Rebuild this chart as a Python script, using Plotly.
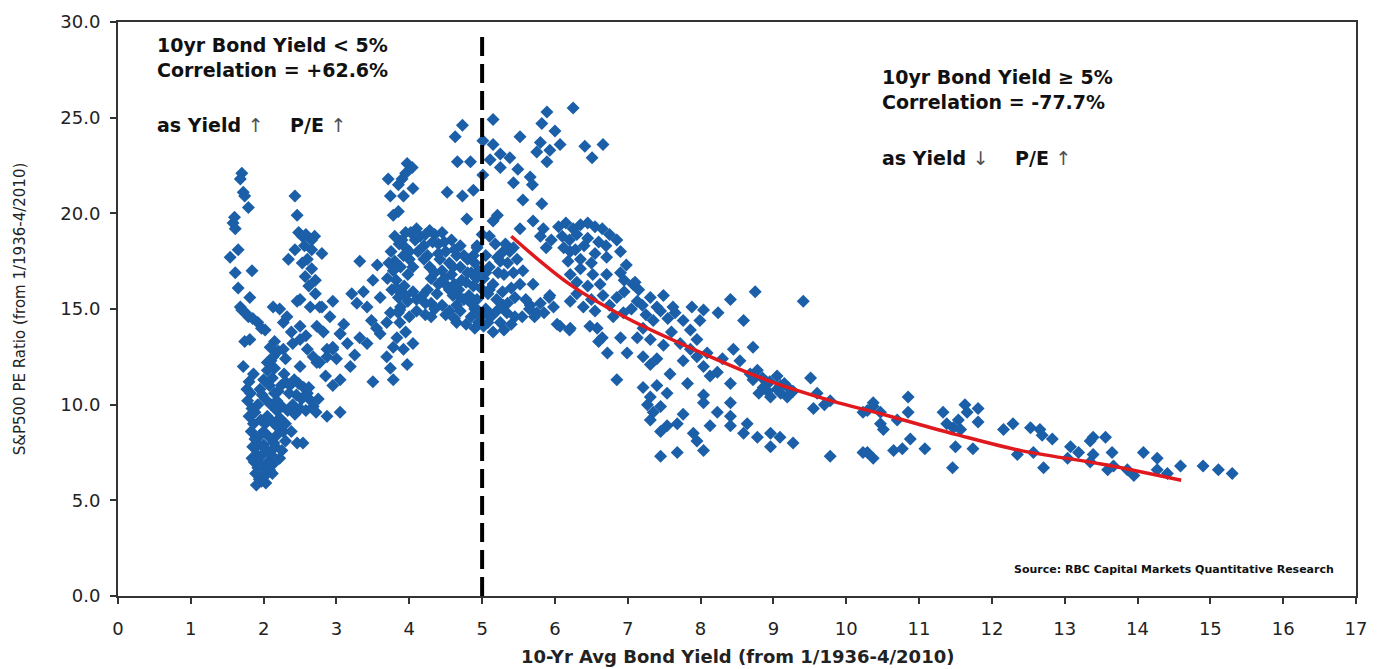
import plotly.graph_objects as go

# ---------------- data ----------------
# Scatter points: (10-yr avg bond yield, S&P500 P/E)
pts_band_1_6_to_2 = [
    (1.70, 22.1), (1.68, 21.8), (1.72, 21.1), (1.74, 20.9), (1.79, 20.3), (1.58, 19.5), (1.60, 19.8),
    (1.61, 19.2), (1.65, 18.1), (1.54, 17.7), (1.61, 16.9), (1.84, 17.0), (1.65, 16.1), (1.81, 15.6),
    (1.68, 15.1), (1.70, 14.95), (1.75, 14.8), (1.79, 14.6), (1.85, 14.5), (1.92, 14.3), (1.97, 14.0),
    (2.02, 13.9), (1.74, 13.3), (1.72, 12.0), (1.77, 10.8), (1.80, 11.2), (1.82, 10.6), (1.78, 10.2),
    (1.84, 9.8), (1.80, 9.4), (1.86, 9.0), (1.83, 8.6), (1.88, 8.2), (1.85, 7.8), (1.90, 7.4),
    (1.87, 7.0), (1.92, 6.7), (1.89, 6.4), (1.94, 6.1), (1.90, 5.8), (1.97, 6.0), (1.84, 7.2),
    (1.93, 7.9), (1.88, 9.6), (1.81, 13.4),
]
pts_band_2_dense = [
    (1.95, 10.8), (2.00, 11.3), (1.92, 10.0), (1.96, 9.2), (2.02, 9.0), (1.95, 8.4), (2.00, 7.9),
    (1.96, 7.3), (2.08, 6.6), (1.93, 6.9), (2.03, 5.9), (1.98, 10.5), (2.15, 11.9), (2.20, 10.7),
    (2.25, 9.9), (2.27, 8.6), (2.18, 8.4), (2.22, 7.2), (2.12, 6.4), (1.86, 11.6),
]
pts_band_2_to_3_low = [
    (2.10, 12.3), (2.05, 11.8), (2.12, 11.4), (2.08, 11.0), (2.15, 10.6), (2.02, 10.3), (2.10, 10.0),
    (2.18, 9.7), (2.05, 9.4), (2.12, 9.1), (2.20, 8.8), (2.00, 8.6), (2.08, 8.3), (2.14, 8.0),
    (2.02, 7.7), (2.10, 7.4), (2.06, 7.0), (1.98, 6.8), (2.04, 6.5), (2.00, 6.2), (2.13, 6.9),
    (2.16, 7.8), (2.22, 9.3), (2.18, 10.2), (2.24, 11.0), (2.25, 7.6), (2.30, 8.1), (2.20, 12.8),
    (2.15, 13.3), (2.30, 12.4), (2.28, 11.6), (2.30, 11.2), (2.36, 11.0), (2.42, 11.3), (2.48, 11.1),
    (2.55, 10.9), (2.35, 10.6), (2.45, 10.5), (2.52, 10.3), (2.60, 10.6), (2.65, 10.2), (2.40, 10.0),
    (2.50, 9.8), (2.58, 9.7), (2.68, 9.9), (2.72, 9.6), (2.33, 9.7), (2.43, 9.5), (2.62, 10.9),
    (2.75, 10.3), (2.87, 9.4), (3.05, 9.6), (2.46, 8.0), (2.54, 8.0), (2.38, 8.6), (2.30, 9.0),
    (2.09, 13.0), (2.13, 12.5), (2.27, 12.9), (2.40, 13.2), (2.50, 13.4), (2.60, 12.9), (2.68, 12.5),
    (2.77, 12.2), (2.87, 12.9), (2.95, 13.0), (2.73, 14.1), (2.82, 13.8), (3.05, 13.7), (2.50, 14.1),
    (2.27, 14.3), (2.13, 15.1), (2.22, 15.0), (2.32, 14.6), (2.46, 15.4), (2.64, 15.1), (2.77, 15.1),
    (2.05, 12.2), (2.38, 13.8), (2.58, 13.6), (2.85, 11.5), (2.95, 11.0), (2.50, 12.0),
]
pts_band_2_to_3_high = [
    (2.43, 20.9), (2.46, 19.9), (2.53, 18.8), (2.66, 18.6), (2.43, 18.1), (2.56, 18.3), (2.66, 18.1),
    (2.80, 17.9), (2.34, 17.6), (2.53, 17.4), (2.60, 17.6), (2.66, 17.1), (2.57, 16.7), (2.71, 16.5),
    (2.62, 16.2), (2.71, 15.8), (2.50, 15.5), (2.80, 15.1), (2.95, 15.4), (2.91, 14.6), (2.48, 19.0),
    (2.58, 18.9), (2.70, 18.8),
]
pts_band_3_to_4 = [
    (3.32, 17.5), (3.56, 17.3), (3.50, 16.5), (3.21, 15.8), (3.37, 15.9), (3.60, 15.6), (3.28, 15.3),
    (3.42, 15.1), (3.74, 14.8), (3.87, 14.95), (3.69, 14.3), (3.87, 14.3), (3.60, 13.7), (3.83, 13.5),
    (4.05, 13.2), (3.92, 12.9), (3.32, 13.5), (3.42, 13.2), (3.15, 13.2), (3.05, 13.7), (2.95, 12.9),
    (2.87, 12.5), (2.73, 12.2), (3.19, 12.0), (3.69, 12.5), (3.74, 11.9), (3.97, 12.1), (3.50, 11.2),
    (3.78, 11.3), (3.55, 14.0), (3.48, 14.4), (3.10, 14.2), (3.00, 12.4), (3.25, 12.6), (3.05, 11.3),
    (3.95, 13.8), (3.78, 13.0),
]
pts_band_4_to_5 = [
    (3.75, 18.0), (3.80, 17.5), (3.78, 17.0), (3.82, 16.5), (3.76, 16.0), (3.85, 15.6), (3.90, 18.6),
    (3.95, 18.2), (3.92, 17.8), (3.88, 17.2), (3.93, 16.2), (3.90, 15.8), (3.98, 15.4), (4.02, 19.0),
    (4.08, 18.6), (4.00, 17.6), (4.05, 15.9), (4.10, 15.5), (4.15, 18.8), (4.20, 18.3), (4.25, 17.8),
    (4.28, 17.2), (4.30, 16.6), (4.25, 16.0), (4.18, 15.7), (4.30, 15.3), (4.35, 18.9), (4.40, 18.4),
    (4.42, 17.6), (4.45, 17.0), (4.40, 16.3), (4.38, 15.8), (4.45, 15.2), (4.50, 18.0), (4.55, 17.4),
    (4.58, 16.8), (4.52, 16.2), (4.60, 15.7), (4.55, 14.9), (4.65, 17.8), (4.70, 17.2), (4.72, 16.5),
    (4.68, 16.0), (4.75, 15.5), (4.70, 14.9), (4.80, 17.6), (4.85, 16.9), (4.88, 16.2), (4.82, 15.7),
    (4.90, 15.0), (4.85, 14.6), (4.95, 14.3), (4.78, 14.2), (4.62, 14.5), (4.00, 14.6), (3.85, 14.8),
    (4.10, 14.9), (4.22, 14.7), (4.95, 17.0), (4.98, 16.1), (4.93, 15.5), (4.12, 18.0), (3.98, 16.8),
    (4.35, 16.9), (4.48, 16.6), (4.62, 16.3), (4.78, 16.4), (4.65, 15.2), (4.88, 17.8), (4.70, 18.3),
    (4.58, 18.6), (4.45, 19.0), (4.28, 19.1), (3.86, 18.4), (3.72, 17.4), (4.05, 17.2),
    (4.73, 24.6), (4.63, 24.0), (4.66, 22.7), (4.84, 22.7), (3.97, 22.6), (4.04, 22.4), (3.71, 21.8),
    (3.90, 21.8), (3.85, 21.5), (4.05, 21.3), (3.74, 20.9), (3.92, 20.9), (4.52, 21.1), (4.73, 20.9),
    (4.88, 21.2), (3.78, 19.9), (3.85, 20.1), (4.79, 19.7), (4.93, 18.2), (3.95, 22.1),
]
pts_cluster_4_dense = [
    (3.80, 18.8), (3.95, 19.0), (4.10, 19.2), (4.22, 18.9), (4.32, 18.5), (4.48, 18.5), (4.62, 18.1),
    (4.75, 17.8), (4.90, 17.4), (3.70, 16.6), (3.82, 16.1), (3.95, 15.7), (4.22, 15.3), (4.35, 15.0),
    (4.50, 14.7), (4.70, 15.6), (4.85, 15.3), (4.95, 14.9), (4.60, 17.2), (4.40, 17.9), (4.55, 16.0),
    (4.80, 16.9), (4.92, 16.6), (3.88, 15.1), (4.00, 18.0), (4.20, 17.6), (4.65, 14.3), (4.90, 14.0),
    (4.30, 14.6),
]
pts_band_5_to_7 = [
    (6.25, 25.5), (5.89, 25.3), (5.82, 24.7), (5.15, 24.9), (5.52, 24.0), (5.01, 23.8), (5.15, 23.6),
    (5.80, 23.7), (6.00, 24.3), (5.93, 23.3), (6.07, 23.6), (5.75, 23.2), (6.41, 23.5), (6.66, 23.6),
    (6.51, 22.9), (5.89, 22.7), (5.25, 23.1), (5.38, 22.9), (5.11, 22.8), (5.25, 22.4), (5.01, 22.0),
    (5.49, 22.3), (5.66, 21.9), (5.43, 21.6), (5.69, 21.5), (5.56, 20.7), (5.82, 20.5), (5.21, 19.9),
    (5.15, 19.6), (5.70, 19.6), (5.52, 19.2), (5.84, 19.2), (5.29, 18.0), (5.21, 17.7), (5.43, 18.2),
    (5.43, 16.9), (5.56, 17.0), (4.93, 18.3), (5.70, 16.3), (5.52, 16.3), (5.66, 15.2), (5.75, 14.8),
    (5.93, 15.7), (5.98, 15.1), (6.21, 18.0), (6.35, 17.1), (6.21, 16.8), (6.52, 16.8), (6.71, 17.7),
    (6.71, 16.8), (6.90, 16.9), (7.07, 16.3), (6.66, 15.7), (6.85, 15.6), (7.13, 15.4), (6.94, 14.8),
    (6.39, 15.1), (6.21, 15.4), (5.29, 15.2), (5.34, 14.8), (5.11, 14.7), (6.03, 14.2), (6.21, 14.0),
    (6.58, 14.0), (7.21, 14.0), (6.80, 14.6),
    (6.05, 19.3), (6.15, 19.5), (6.25, 19.2), (6.35, 19.4), (6.45, 19.5), (6.55, 19.3), (6.65, 19.2),
    (6.75, 18.9), (6.10, 18.8), (6.20, 18.6), (6.30, 18.9), (6.45, 18.7), (6.60, 18.5), (6.70, 18.3),
    (6.12, 18.2), (6.28, 18.1), (6.40, 18.3), (6.55, 17.9), (6.35, 17.6), (6.50, 17.4), (6.18, 17.5),
    (5.95, 18.6), (5.88, 18.2), (5.80, 18.8), (6.85, 18.6), (6.90, 18.0), (6.98, 17.3),
    (5.05, 17.8), (5.10, 17.2), (5.02, 16.6), (5.15, 16.3), (5.08, 15.8), (5.20, 15.5), (5.05, 15.0),
    (5.12, 14.6), (5.25, 14.3), (5.02, 14.1), (5.30, 16.8), (5.35, 17.4), (5.40, 16.1), (5.45, 15.6),
    (5.18, 18.4), (5.38, 18.0), (5.48, 17.6), (5.30, 13.9), (5.15, 13.8), (5.45, 14.6),
    (5.60, 15.5), (5.65, 15.0), (5.72, 14.6), (5.80, 15.3), (5.85, 14.8), (5.92, 15.6), (5.55, 14.6),
    (6.07, 14.1), (6.20, 13.9), (6.48, 14.1), (6.65, 13.5), (6.72, 12.7), (6.99, 12.7), (6.85, 11.3),
    (6.60, 13.3), (6.90, 13.5),
]
pts_band_5_dense = [
    (5.05, 16.9), (5.10, 16.0), (5.22, 16.9), (5.28, 15.9), (5.35, 15.3), (5.20, 14.9), (5.08, 14.3),
    (4.98, 14.6), (5.40, 14.2), (5.25, 17.5), (5.32, 18.4), (5.00, 18.9), (5.10, 18.8),
    (6.30, 15.8), (6.50, 15.5), (6.55, 14.9), (6.75, 15.2), (6.95, 15.9), (7.05, 15.0), (7.20, 15.2),
    (7.25, 14.7), (7.45, 14.9), (7.55, 14.5), (7.65, 14.8), (7.15, 16.0), (6.30, 16.4), (6.45, 16.2),
    (6.62, 16.3), (6.95, 16.5),
]
pts_band_7_to_10 = [
    (7.10, 16.4), (8.75, 15.9), (9.41, 15.4), (8.41, 15.5), (7.31, 15.6), (7.49, 15.7), (7.40, 15.1),
    (7.62, 15.1), (7.88, 15.1), (8.04, 14.95), (8.24, 14.8), (7.76, 14.4), (7.99, 14.4), (7.86, 13.9),
    (8.59, 14.4), (7.35, 14.4), (7.13, 13.5), (7.31, 13.4), (7.49, 13.1), (7.72, 13.2), (7.86, 12.9),
    (7.76, 12.3), (7.95, 12.5), (8.09, 12.7), (8.45, 12.9), (8.72, 13.0), (8.54, 12.3), (7.21, 12.5),
    (7.40, 12.4), (7.31, 12.1), (8.04, 12.0), (8.23, 11.7), (8.41, 11.1), (8.13, 11.5), (8.78, 11.8),
    (8.72, 11.3), (8.86, 10.9), (9.05, 10.8), (8.96, 10.4), (9.19, 10.4), (9.27, 10.7), (9.51, 11.4),
    (7.58, 11.6), (7.82, 11.1), (7.21, 10.9), (7.40, 11.0), (7.54, 10.6), (7.31, 10.4), (8.04, 10.5),
    (8.04, 10.1), (8.41, 10.1), (7.27, 10.0), (7.45, 9.9), (7.35, 9.6), (8.23, 9.6), (8.41, 9.4),
    (7.76, 9.5), (7.68, 9.0), (7.54, 8.9), (7.31, 9.2), (7.45, 8.6), (8.13, 8.9), (8.41, 8.9),
    (8.64, 9.0), (8.59, 8.5), (7.90, 8.5), (7.95, 8.1), (8.04, 7.6), (8.78, 8.3), (8.96, 8.5),
    (9.09, 8.3), (9.27, 8.0), (8.96, 7.8), (7.68, 7.5), (7.45, 7.3), (9.78, 7.3), (10.23, 7.5),
    (10.37, 9.9), (10.23, 9.6), (9.78, 10.2), (9.60, 10.6), (9.70, 10.0), (9.55, 9.8),
    (8.68, 11.6), (8.90, 11.2), (9.10, 11.0), (8.30, 12.4), (7.60, 13.8), (7.95, 13.4),
    (8.85, 11.4), (8.95, 11.2), (9.05, 11.5), (9.15, 11.1), (9.20, 10.9), (8.92, 10.7), (9.10, 10.6),
    (8.80, 10.6),
]
pts_band_10_plus = [
    (10.37, 10.1), (10.29, 9.7), (10.47, 9.6), (10.51, 8.7), (10.47, 9.0), (10.70, 9.2), (10.85, 10.4),
    (10.85, 9.6), (10.88, 8.2), (10.65, 7.6), (10.77, 7.7), (11.08, 7.7), (10.29, 7.5), (10.37, 7.2),
    (11.33, 9.6), (11.63, 10.0), (11.81, 9.8), (11.66, 9.6), (11.54, 9.2), (11.38, 9.0), (11.47, 8.8),
    (11.57, 8.7), (11.81, 9.1), (11.50, 7.8), (11.74, 7.7), (11.46, 6.7), (12.29, 9.0), (12.16, 8.7),
    (12.53, 8.8), (12.66, 8.7), (12.69, 8.4), (12.83, 8.2), (12.35, 7.4), (12.57, 7.5), (12.71, 6.7),
    (13.08, 7.8), (13.19, 7.5), (13.04, 7.2), (13.35, 8.1), (13.39, 8.3), (13.56, 8.3), (13.39, 7.4),
    (13.65, 7.5), (13.35, 7.0), (13.59, 6.6), (13.67, 6.8), (13.86, 6.6), (13.95, 6.3), (14.08, 7.5),
    (14.27, 7.2), (14.27, 6.6), (14.41, 6.4), (14.59, 6.8), (14.90, 6.8), (15.11, 6.6), (15.30, 6.4),
]

# Fitted trend (yield >= 5%)
trend_x = [5.4, 6.2, 7.0, 7.9, 8.9, 9.8, 10.5, 11.5, 12.4, 13.5, 14.6]
trend_y = [18.8, 16.3, 14.5, 12.9, 11.3, 10.2, 9.5, 8.45, 7.6, 6.9, 6.05]

threshold_yield = 5.0
threshold_line_top = 29.3

x_ticks = list(range(0, 18))
y_ticks = [0, 5, 10, 15, 20, 25, 30]

all_pts = (pts_band_1_6_to_2 + pts_band_2_dense + pts_band_2_to_3_low + pts_band_2_to_3_high
           + pts_band_3_to_4 + pts_band_4_to_5 + pts_cluster_4_dense + pts_band_5_to_7
           + pts_band_5_dense + pts_band_7_to_10 + pts_band_10_plus)
px = [p[0] for p in all_pts]
py = [p[1] for p in all_pts]

FONT = "DejaVu Sans, Liberation Sans, Arial, sans-serif"
BLUE = "#1B5FA8"
TXT = "#111111"

fig = go.Figure()
fig.add_trace(go.Scatter(
    x=px, y=py, mode="markers",
    marker=dict(symbol="diamond", size=10, color=BLUE, line=dict(width=0)),
    showlegend=False, hoverinfo="x+y",
))
fig.add_trace(go.Scatter(
    x=[threshold_yield, threshold_yield], y=[0, threshold_line_top], mode="lines",
    line=dict(color="black", width=4, dash="19px,8px"), showlegend=False, hoverinfo="skip",
))
fig.add_trace(go.Scatter(
    x=trend_x, y=trend_y, mode="lines",
    line=dict(color="#E0191E", width=3.5, shape="spline", smoothing=1.0),
    showlegend=False, hoverinfo="skip",
))

ARW = "<span style='font-weight:normal;color:#505050'>%s</span>"

def note(x, y, text, size=19):
    fig.add_annotation(
        x=x, y=y, xref="x", yref="y", text="<b>%s</b>" % text,
        showarrow=False, xanchor="left", yanchor="middle",
        font=dict(family=FONT, size=size, color=TXT),
    )

note(0.51, 28.8, "10yr Bond Yield &lt; 5%")
note(0.51, 27.5, "Correlation = +62.6%")
note(0.51, 24.6, "as Yield " + ARW % "↑" + "    P/E " + ARW % "↑")
note(10.47, 27.1, "10yr Bond Yield ≥ 5%")
note(10.47, 25.8, "Correlation = -77.7%")
note(10.47, 22.9, "as Yield " + ARW % "↓" + "    P/E " + ARW % "↑")
fig.add_annotation(
    x=16.72, y=1.36, xref="x", yref="y",
    text="<b>Source: RBC Capital Markets Quantitative Research</b>",
    showarrow=False, xanchor="right", yanchor="middle",
    font=dict(family=FONT, size=11, color=TXT),
)
# x-axis title placed in the bottom margin (paper coords) so the plot area keeps its size
fig.add_annotation(
    x=0.5, y=-0.105, xref="paper", yref="paper",
    text="<b>10-Yr Avg Bond Yield (from 1/1936-4/2010)</b>",
    showarrow=False, xanchor="center", yanchor="middle",
    font=dict(family=FONT, size=18, color="#222222"),
)

axis_common = dict(
    showgrid=False, zeroline=False, showline=True, linecolor="#333333", linewidth=2,
    mirror=True, ticks="outside", ticklen=6, tickwidth=1.5, tickcolor="#333333",
    tickfont=dict(family=FONT, size=18, color="#222222"),
)
fig.update_xaxes(
    range=[0, 17], tickvals=x_ticks, ticktext=[str(v) for v in x_ticks], ticklabelstandoff=9,
    automargin=False,
    **axis_common,
)
fig.update_yaxes(
    range=[0, 30], tickvals=y_ticks, tickformat=".1f", ticklabelstandoff=6,
    title=dict(text="S&amp;P500 PE Ratio (from 1/1936-4/2010)",
               font=dict(family=FONT, size=15, color="#222222"), standoff=31),
    **axis_common,
)
fig.update_layout(
    width=1379, height=669,
    margin=dict(l=118, r=23, t=22, b=73),
    plot_bgcolor="white", paper_bgcolor="white",
    font=dict(family=FONT),
)
fig.write_html("out.html", config={"displayModeBar": False},
               post_script="document.body.style.margin='0px';")
